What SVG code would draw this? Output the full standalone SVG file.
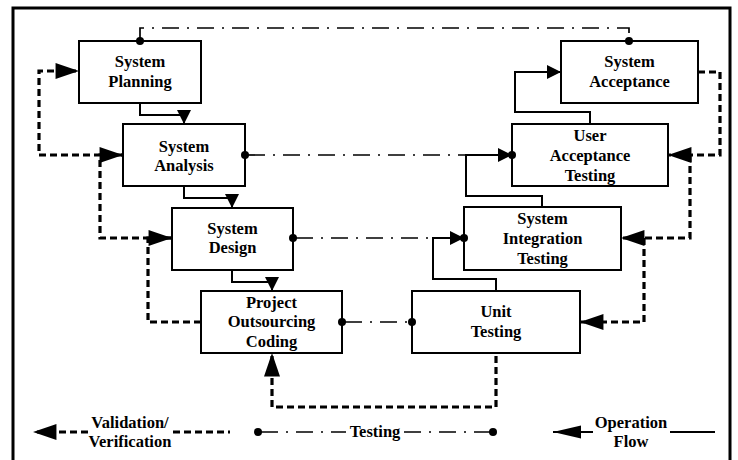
<svg xmlns="http://www.w3.org/2000/svg" width="738" height="460" viewBox="0 0 738 460">
<style>
.box{fill:#fff;stroke:#000;stroke-width:2}
.lbl{font-family:"Liberation Serif","Times New Roman",serif;font-weight:bold;font-size:16.5px;text-anchor:middle;fill:#000}
.op{fill:none;stroke:#000;stroke-width:2}
.test{fill:none;stroke:#000;stroke-width:1.7;stroke-dasharray:17 8 2 8}
.val{fill:none;stroke:#000;stroke-width:3.2;stroke-dasharray:7 4}
.dot{fill:#000}
</style>
<defs>
<marker id="aS" markerUnits="userSpaceOnUse" markerWidth="14" markerHeight="14" viewBox="0 0 12 12" refX="12" refY="6" orient="auto"><path d="M0,0 L12,6 L0,12 Z" fill="#000"/></marker>
<marker id="aB" markerUnits="userSpaceOnUse" markerWidth="24" markerHeight="16" viewBox="0 0 22 15" refX="22" refY="7.5" orient="auto"><path d="M0,0 L22,7.5 L0,15 Z" fill="#000"/></marker>
<marker id="aL" markerUnits="userSpaceOnUse" markerWidth="28" markerHeight="14" viewBox="0 0 26 12" refX="26" refY="6" orient="auto"><path d="M0,0 L26,6 L0,12 Z" fill="#000"/></marker>
</defs>
<rect width="738" height="460" fill="#fff"/>
<path d="M13,465 V8 H730 V465" fill="none" stroke="#000" stroke-width="3"/>

<g id="planning"><rect class="box" x="79" y="41" width="122" height="62"/><text class="lbl" x="140" y="67">System</text><text class="lbl" x="140" y="87">Planning</text></g>
<g id="analysis"><rect class="box" x="123" y="124" width="122" height="62"/><text class="lbl" x="184" y="152">System</text><text class="lbl" x="184" y="171">Analysis</text></g>
<g id="design"><rect class="box" x="172" y="208" width="121" height="62"/><text class="lbl" x="232.5" y="234">System</text><text class="lbl" x="232.5" y="253">Design</text></g>
<g id="coding"><rect class="box" x="201" y="291" width="141" height="62"/><text class="lbl" x="271.5" y="308">Project</text><text class="lbl" x="271.5" y="327">Outsourcing</text><text class="lbl" x="271.5" y="347">Coding</text></g>
<g id="acceptance"><rect class="box" x="561" y="41" width="137" height="62"/><text class="lbl" x="629.5" y="67">System</text><text class="lbl" x="629.5" y="87">Acceptance</text></g>
<g id="uat"><rect class="box" x="512" y="124" width="156" height="62"/><text class="lbl" x="590" y="141">User</text><text class="lbl" x="590" y="161">Acceptance</text><text class="lbl" x="590" y="181">Testing</text></g>
<g id="sit"><rect class="box" x="464" y="207" width="157" height="63"/><text class="lbl" x="542.5" y="224">System</text><text class="lbl" x="542.5" y="244">Integration</text><text class="lbl" x="542.5" y="264">Testing</text></g>
<g id="unit"><rect class="box" x="412" y="291" width="168" height="62"/><text class="lbl" x="496" y="317">Unit</text><text class="lbl" x="496" y="337">Testing</text></g>

<g id="connectors">
<path class="op" d="M140,103 V115 H184 V124" marker-end="url(#aS)"/>
<path class="op" d="M184,186 V198 H232 V208" marker-end="url(#aS)"/>
<path class="op" d="M232,270 V282 H272 V291" marker-end="url(#aS)"/>
<path class="op" d="M496,291 V279 H433 V238 H464" marker-end="url(#aS)"/>
<path class="op" d="M542,207 V196 H466 V155 H512" marker-end="url(#aS)"/>
<path class="op" d="M590,124 V112 H515 V72 H561" marker-end="url(#aS)"/>

<path class="test" d="M140,41 V28 H629 V41"/>
<path class="test" d="M245,155 H512" stroke-dashoffset="-3"/>
<path class="test" d="M293,238 H464" stroke-dashoffset="-3"/>
<path class="test" d="M342,322 H412" stroke-dashoffset="-3"/>
<circle class="dot" cx="140" cy="41" r="4"/>
<circle class="dot" cx="629" cy="41" r="4"/>
<circle class="dot" cx="245" cy="155" r="4"/>
<circle class="dot" cx="512" cy="155" r="4"/>
<circle class="dot" cx="293" cy="238" r="4"/>
<circle class="dot" cx="464" cy="238" r="4"/>
<circle class="dot" cx="342" cy="322" r="4"/>
<circle class="dot" cx="412" cy="322" r="4"/>

<path class="val" d="M123,155 H39 V71 H79" marker-end="url(#aB)"/>
<path class="val" d="M172,238 H100 V155 H123" marker-end="url(#aB)"/>
<path class="val" d="M201,322 H148 V238 H172" marker-end="url(#aB)"/>
<path class="val" d="M698,72 H720 V155 H668" marker-end="url(#aB)"/>
<path class="val" d="M690,155 V238 H621" marker-end="url(#aB)"/>
<path class="val" d="M644,238 V322 H580" marker-end="url(#aB)"/>
<path class="val" d="M496,356 V407 H272 V353" marker-end="url(#aB)"/>
</g>

<g id="legend">
<path class="val" d="M88,432 H33" marker-end="url(#aB)"/>
<path class="val" d="M173,432 H230"/>
<text class="lbl" x="130" y="428">Validation/</text>
<text class="lbl" x="130" y="447">Verification</text>
<path class="test" d="M258,432 H346" stroke-dashoffset="-3"/>
<path class="test" d="M404,432 H493"/>
<circle class="dot" cx="258" cy="432" r="4"/>
<circle class="dot" cx="493" cy="432" r="4"/>
<text class="lbl" x="375" y="437">Testing</text>
<path class="op" d="M593,432 H553" marker-end="url(#aL)"/>
<path class="op" d="M670,432 H715"/>
<text class="lbl" x="631" y="428">Operation</text>
<text class="lbl" x="631" y="447">Flow</text>
</g>
</svg>
